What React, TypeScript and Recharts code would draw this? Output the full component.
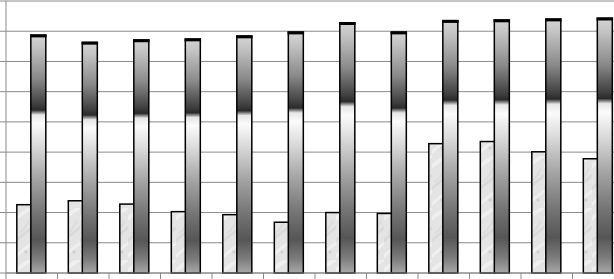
import { BarChart, Bar, XAxis, YAxis, CartesianGrid } from 'recharts';

// Category slots (labels are cropped out of the reference)
const categories = ['1', '2', '3', '4', '5', '6', '7', '8', '9', '10', '11', '12'];
// Short textured bars
const seriesA = [2.26, 2.39, 2.28, 2.03, 1.93, 1.68, 2.0, 1.97, 4.28, 4.35, 4.01, 3.78];
// Tall gradient bars
const seriesB = [7.87, 7.63, 7.71, 7.74, 7.84, 7.97, 8.28, 7.97, 8.35, 8.37, 8.4, 8.43];
const yTicks = [0, 1, 2, 3, 4, 5, 6, 7, 8, 9];

const data = categories.map((c, i) => ({ name: c, a: seriesA[i], b: seriesB[i] }));

const GRID = '#8a8a8a';

// Marble-like bar
const TexturedBar = ({ x, y, width, height }: any) => {
  if (!height || height <= 0) return null;
  return (
    <g>
      <rect x={x} y={y} width={width} height={height} fill="url(#marble)" stroke="#000" strokeWidth={1.5} />
    </g>
  );
};

// Cylinder gradient bar with heavy cap
const TallBar = ({ x, y, width, height }: any) => {
  if (!height || height <= 0) return null;
  return (
    <g>
      <rect x={x} y={y} width={width} height={height} fill="url(#tallGrad)" stroke="#000" strokeWidth={1.5} />
      <rect x={x - 0.75} y={y - 0.75} width={width + 1.5} height={3} fill="#000" />
    </g>
  );
};

// Tick marks sit between the categories, like in the original
const BoundaryTick = ({ x, y, payload }: any) => {
  const off = payload?.offset ?? 0;
  return <line x1={x - off} x2={x - off} y1={y} y2={y + 9} stroke={GRID} strokeWidth={1} />;
};

export default function App() {
  return (
    <div style={{ position: 'fixed', left: 0, top: 0, width: 614, height: 279, overflow: 'hidden', background: '#fff' }}>
      <BarChart
        width={624}
        height={292}
        data={data}
        margin={{ top: 1, right: 0, bottom: 0, left: 0 }}
        barCategoryGap="21%"
        barGap={-1}
      >
        <defs>
          <linearGradient id="tallGrad" x1="0" y1="0" x2="0" y2="1">
            <stop offset="0" stopColor="#d4d4d4" />
            <stop offset="0.05" stopColor="#c4c4c4" />
            <stop offset="0.18" stopColor="#8a8a8a" />
            <stop offset="0.29" stopColor="#404040" />
            <stop offset="0.315" stopColor="#2a2a2a" />
            <stop offset="0.335" stopColor="#e6e6e6" />
            <stop offset="0.37" stopColor="#fbfbfb" />
            <stop offset="0.46" stopColor="#dcdcdc" />
            <stop offset="0.6" stopColor="#a6a6a6" />
            <stop offset="0.75" stopColor="#747474" />
            <stop offset="0.86" stopColor="#565656" />
            <stop offset="0.94" stopColor="#7c7c7c" />
            <stop offset="1" stopColor="#a8a8a8" />
          </linearGradient>
          <pattern id="marble" patternUnits="userSpaceOnUse" width="16" height="52">
            <rect width="16" height="52" fill="#e4e4e4" />
            <path d="M-2 12 Q 5 6 18 -2" stroke="#efefef" strokeWidth="4" fill="none" />
            <path d="M-2 34 Q 8 26 18 18" stroke="#d6d6d6" strokeWidth="3" fill="none" opacity="0.7" />
            <path d="M-2 50 Q 6 42 18 34" stroke="#efefef" strokeWidth="3" fill="none" />
            <path d="M3 26 Q 9 21 13 12" stroke="#d9d9d9" strokeWidth="2" fill="none" opacity="0.6" />
            <circle cx="10" cy="44" r="1.8" fill="#c6c6c6" opacity="0.6" />
          </pattern>
        </defs>
        <CartesianGrid vertical={false} stroke={GRID} strokeWidth={1} />
        <XAxis
          dataKey="name"
          axisLine={{ stroke: GRID }}
          tickLine={false}
          tickSize={0}
          tickMargin={0}
          height={19}
          tick={<BoundaryTick />}
          interval={0}
        />
        <YAxis
          width={6}
          domain={[0, 9]}
          ticks={yTicks}
          interval={0}
          axisLine={{ stroke: GRID }}
          tickLine={{ stroke: GRID }}
          tickSize={6}
          tick={() => <g />}
        />
        <Bar dataKey="a" shape={<TexturedBar />} isAnimationActive={false} />
        <Bar dataKey="b" shape={<TallBar />} isAnimationActive={false} />
      </BarChart>
    </div>
  );
}
